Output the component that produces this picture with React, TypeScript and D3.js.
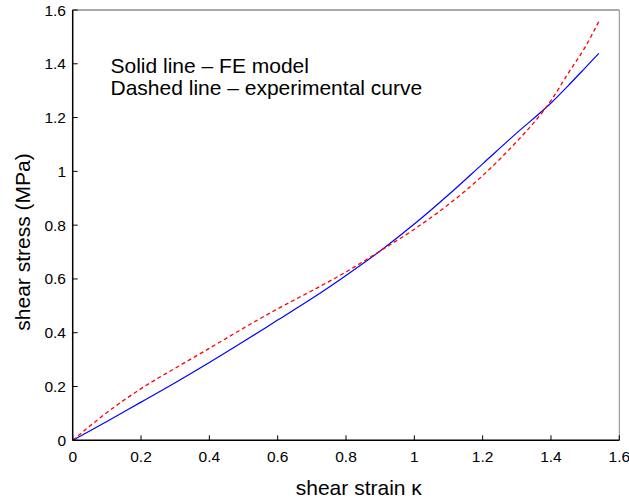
import React from "react";
import * as d3 from "d3";

const xTicks = [0, 0.2, 0.4, 0.6, 0.8, 1, 1.2, 1.4, 1.6];
const yTicks = [0, 0.2, 0.4, 0.6, 0.8, 1, 1.2, 1.4, 1.6];

const feStrain = [0, 0.1, 0.2, 0.3, 0.4, 0.5, 0.6, 0.7, 0.8, 0.9, 1.0, 1.1, 1.2, 1.3, 1.4, 1.45, 1.5, 1.54];
const feStress = [0, 0.07, 0.142, 0.214, 0.289, 0.367, 0.447, 0.527, 0.613, 0.704, 0.804, 0.913, 1.028, 1.143, 1.254, 1.318, 1.385, 1.439];

const expStrain = [0, 0.1, 0.2, 0.3, 0.4, 0.5, 0.6, 0.7, 0.8, 0.9, 1.0, 1.1, 1.2, 1.3, 1.35, 1.4, 1.45, 1.5, 1.54];
const expStress = [0, 0.103, 0.192, 0.268, 0.342, 0.417, 0.489, 0.556, 0.626, 0.704, 0.785, 0.877, 0.984, 1.111, 1.181, 1.263, 1.364, 1.462, 1.557];

const W = 629;
const H = 502;
const L = 72.7, R = 619.3, T = 10, B = 440.3;
const font = "'Liberation Sans', Arial, Helvetica, sans-serif";

export default function App() {
  const x = d3.scaleLinear().domain([0, 1.6]).range([L, R]);
  const y = d3.scaleLinear().domain([0, 1.6]).range([B, T]);
  const line = d3
    .line<[number, number]>()
    .x((d) => x(d[0]))
    .y((d) => y(d[1]))
    .curve(d3.curveMonotoneX);
  const fe = feStrain.map((v, i) => [v, feStress[i]] as [number, number]);
  const ex = expStrain.map((v, i) => [v, expStress[i]] as [number, number]);

  return (
    <svg
      width={W}
      height={H}
      style={{ position: "absolute", left: 0, top: 0, background: "#fff" }}
      fontFamily={font}
    >
      <rect x={0} y={0} width={W} height={H} fill="#fff" />
      {/* box */}
      <line x1={L} x2={R} y1={T} y2={T} stroke="#555" strokeWidth={1} />
      <line x1={R} x2={R} y1={T} y2={B} stroke="#888" strokeWidth={1} />
      {/* curves */}
      <path d={line(fe) || ""} fill="none" stroke="#0000ff" strokeWidth={1.2} />
      <path
        d={line(ex) || ""}
        fill="none"
        stroke="#ff0000"
        strokeWidth={1.3}
        strokeDasharray="4,3"
      />
      {/* axes */}
      <line x1={L} x2={R} y1={B} y2={B} stroke="#000" strokeWidth={1.5} />
      <line x1={L} x2={L} y1={T} y2={B} stroke="#000" strokeWidth={1.5} />
      {xTicks.map((t) => (
        <g key={"x" + t}>
          <line x1={x(t)} x2={x(t)} y1={B} y2={B - 5} stroke="#000" strokeWidth={1} />
          <text x={x(t)} y={461.7} textAnchor="middle" fontSize={15.5} fill="#000">
            {String(t)}
          </text>
        </g>
      ))}
      {yTicks.map((t) => (
        <g key={"y" + t}>
          <line x1={L} x2={L + 5} y1={y(t)} y2={y(t)} stroke="#000" strokeWidth={1} />
          <text x={66} y={y(t) + 5.5} textAnchor="end" fontSize={15.5} fill="#000">
            {String(t)}
          </text>
        </g>
      ))}
      {/* axis titles */}
      <text x={358.8} y={495} textAnchor="middle" fontSize={21} fill="#000">
        shear strain κ
      </text>
      <text
        transform={`translate(30,242) rotate(-90)`}
        textAnchor="middle"
        fontSize={21}
        fill="#000"
      >
        shear stress (MPa)
      </text>
      {/* annotation */}
      <text x={110.5} y={72.7} fontSize={21} fill="#000">
        Solid line – FE model
      </text>
      <text x={110.5} y={94.5} fontSize={21} fill="#000">
        Dashed line – experimental curve
      </text>
    </svg>
  );
}
